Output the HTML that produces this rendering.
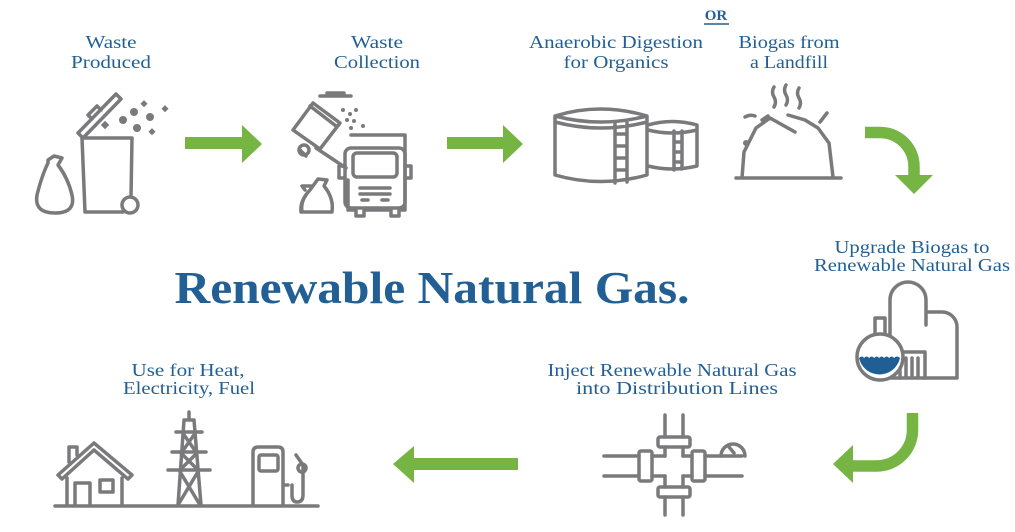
<!DOCTYPE html>
<html><head><style>
html,body{margin:0;padding:0;background:#fff;}
svg{display:block}
.t{font-family:"Liberation Serif",serif;fill:#215f94;font-size:18px;text-anchor:middle}
.g{fill:none;stroke:#7a7a7c;stroke-width:3.5;stroke-linejoin:round;stroke-linecap:round}
.gf{fill:#7a7a7c}
.gr{fill:#76b443}
</style></head><body>
<svg width="1015" height="532" viewBox="0 0 1015 532" xmlns="http://www.w3.org/2000/svg">
<!-- labels -->
<text class="t" x="111" y="48" textLength="51" lengthAdjust="spacingAndGlyphs">Waste</text>
<text class="t" x="111" y="68" textLength="80" lengthAdjust="spacingAndGlyphs">Produced</text>
<text class="t" x="377" y="48" textLength="52" lengthAdjust="spacingAndGlyphs">Waste</text>
<text class="t" x="377" y="68" textLength="86" lengthAdjust="spacingAndGlyphs">Collection</text>
<text class="t" x="616" y="48" textLength="174" lengthAdjust="spacingAndGlyphs">Anaerobic Digestion</text>
<text class="t" x="616" y="68" textLength="105" lengthAdjust="spacingAndGlyphs">for Organics</text>
<text class="t" x="789" y="48" textLength="101" lengthAdjust="spacingAndGlyphs">Biogas from</text>
<text class="t" x="789" y="68" textLength="78" lengthAdjust="spacingAndGlyphs">a Landfill</text>
<text class="t" x="716" y="20" style="font-weight:bold;font-size:15px">OR</text>
<line x1="704" y1="24" x2="729" y2="24" stroke="#215f94" stroke-width="1.5"/>
<text class="t" x="912" y="253" textLength="155" lengthAdjust="spacingAndGlyphs">Upgrade Biogas to</text>
<text class="t" x="912" y="271" textLength="196" lengthAdjust="spacingAndGlyphs">Renewable Natural Gas</text>
<text class="t" x="672" y="376" textLength="249" lengthAdjust="spacingAndGlyphs">Inject Renewable Natural Gas</text>
<text class="t" x="677" y="394" textLength="202" lengthAdjust="spacingAndGlyphs">into Distribution Lines</text>
<text class="t" x="188" y="376" textLength="113" lengthAdjust="spacingAndGlyphs">Use for Heat,</text>
<text class="t" x="189" y="394" textLength="132" lengthAdjust="spacingAndGlyphs">Electricity, Fuel</text>
<text x="432" y="303" textLength="515" lengthAdjust="spacingAndGlyphs" style="font-family:'Liberation Serif',serif;font-weight:bold;font-size:46px;fill:#215f94;text-anchor:middle">Renewable Natural Gas.</text>

<!-- green arrows -->
<rect class="gr" x="185" y="137" width="58" height="12"/><polygon class="gr" points="242,125 262,144 242,163"/>
<rect class="gr" x="447" y="137" width="57" height="12"/><polygon class="gr" points="503,125 523,144 503,163"/>
<path d="M865 132.5 H880 A34 34 0 0 1 914 166.5 V176" fill="none" stroke="#76b443" stroke-width="11.5"/>
<polygon class="gr" points="895,175 933,175 914,194"/>
<path d="M912.5 413 V430 A36 36 0 0 1 876.5 466 H852" fill="none" stroke="#76b443" stroke-width="11.5"/>
<polygon class="gr" points="853,445 853,483 833,464"/>
<rect class="gr" x="412" y="458" width="106" height="12"/><polygon class="gr" points="414,446 414,483 393,464"/>

<!-- waste produced -->
<path class="g" d="M82 138 H132 L131 197 M123 212 H85 L82 138"/>
<circle class="g" cx="130" cy="205" r="8"/>
<path class="g" d="M78 133 L116 94 L121 99 L83 138 Z M92 119 L88 115 L97 106 L101 110"/>
<circle class="gf" cx="123" cy="120" r="4"/><circle class="gf" cx="134" cy="112" r="4"/><circle class="gf" cx="150" cy="117" r="4"/><circle class="gf" cx="137" cy="128" r="4"/>
<rect class="gf" x="102" y="122" width="6" height="6" transform="rotate(45 105 125)"/>
<rect class="gf" x="142" y="101" width="5" height="5" transform="rotate(45 144 103)"/>
<rect class="gf" x="163" y="106" width="5" height="5" transform="rotate(45 165 108)"/>
<rect class="gf" x="150" y="129" width="5" height="5" transform="rotate(45 152 131)"/>
<path class="g" d="M48 163 Q42 175 37 195 Q34 213 55 213 Q76 213 72 195 Q68 178 58 165 L62 158 L54 156 L48 160 Z"/>

<!-- collection -->
<path class="g" d="M351 135 H405 V158 M348 180 V210 H356 V216 H364 V210 H391 V216 H399 V210 H405 V158"/>
<rect class="g" x="345" y="148" width="60" height="60" rx="6"/>
<rect class="g" x="353" y="153" width="44" height="24" rx="4"/>
<path class="g" d="M339 166 H345 M405 166 H411 V178 H405 M339 166 V178 H345 M360 188 H390 M360 194 H390 M362 200 H368 M382 200 H388"/>
<path class="g" d="M293 130 L313 103 L340 123 L320 149 Z M310 106 L336 126"/>
<path class="g" d="M300 150 l6 6 M316 148 L346 168" />
<circle class="g" cx="304" cy="150" r="5"/>
<path class="g" d="M320 96 H351 M327 96 V93 H344 V96"/>
<circle class="gf" cx="343" cy="110" r="2"/><circle class="gf" cx="350" cy="114" r="2"/><circle class="gf" cx="347" cy="120" r="2"/><circle class="gf" cx="354" cy="121" r="2"/><circle class="gf" cx="356" cy="110" r="2"/><circle class="gf" cx="351" cy="128" r="2"/><circle class="gf" cx="363" cy="126" r="2"/>
<path class="g" d="M310 190 Q300 200 302 212 H332 Q334 198 324 186 L327 180 L318 179 Z"/>
<path class="g" d="M306 195 Q300 203 301 212 M305 190 L302 186 L311 186"/>

<!-- tanks -->
<path class="g" d="M555 116 Q600 102 647 116 V175 Q600 188 555 175 Z M555 116 Q600 128 647 116 M555 122 Q600 134 647 122 M615 124 V183 M627 123 V182 M615 134 H627 M615 146 H627 M615 158 H627 M615 170 H627"/>
<path class="g" d="M648 125 Q672 118 697 125 V166 Q672 172 648 166 M648 130 Q672 136 697 130 M674 131 V170 M682 131 V169 M674 142 H682 M674 152 H682 M674 162 H682"/>
<!-- landfill -->
<path class="g" d="M736 178 H841 M742 178 L744 152 L756 128 L770 118 L795 132 M788 115 L805 120 L818 128 L829 143 L833 177 M762 120 L768 116 M745 117 Q750 114 755 116 M820 122 L827 113"/>
<circle class="gf" cx="746" cy="143" r="3"/>
<path class="g" d="M774 87 q-3 5 0 10 q3 5 0 10 M786 85 q-3 5 0 10 q3 5 0 10 M799 88 q-3 5 0 10 q3 5 0 10"/>

<!-- plant -->
<path class="g" d="M890 378 V300 A18 18 0 0 1 926 300 V325 M926 322 V312 H942 A15 15 0 0 1 957 327 V378 H890"/>
<path class="g" d="M900 378 V352 H925 V378 M906 358 V376 M912 358 V376 M918 358 V376"/>
<circle cx="880" cy="357" r="23" fill="#fff" stroke="#7a7a7c" stroke-width="3.5"/>
<path d="M859 358 q3 -3 5 0 q3 -3 5 0 q3 -3 5 0 q3 -3 5 0 q3 -3 5 0 q3 -3 5 0 q3 -3 5 0 q3 -3 6 0 A21 21 0 0 1 859 358 Z" fill="#1f5f94"/>
<path class="g" d="M875 334 V318 H885 V334"/>

<!-- pipes -->
<path class="g" d="M665 415 V437 M683 415 V437 M665 447 V456 M683 447 V456 M665 476 V487 M683 476 V487 M665 497 V515 M683 497 V515"/>
<rect class="g" x="658" y="437" width="32" height="10" rx="2"/>
<rect class="g" x="658" y="487" width="32" height="10" rx="2"/>
<path class="g" d="M604 456 H639 M604 476 H639 M652 456 H665 M652 476 H665 M683 456 H692 M683 476 H692 M705 456 H742 M705 476 H742"/>
<rect class="g" x="639" y="451" width="13" height="30" rx="2"/><rect class="g" x="692" y="451" width="13" height="30" rx="2"/>
<path class="g" d="M721 456 A12 12 0 0 1 745 456 M729 447 L734 453"/>

<!-- bottom left -->
<path class="g" d="M55 506 H318"/>
<path class="g" d="M58 475 L94 443 L132 475 L128 479 L94 450 L62 479 Z M69 462 V447 H77 V455 M67 478 V505 M122 478 V505 M75 505 V483 H90 V505"/>
<rect class="g" x="100" y="480" width="13" height="12"/>
<path class="g" d="M189 412 V420 M184 420 L178 505 M194 420 L201 505 M176 432 H202 M172 452 H206 M168 470 H210 M182 432 L196 452 M196 432 L182 452 M180 452 L198 470 M198 452 L180 470 M179 470 L200 505 M199 470 L178 505 M184 420 H194"/>
<path class="g" d="M253 505 V452 Q253 447 258 447 H278 Q283 447 283 452 V505 M283 485 H288"/>
<rect class="g" x="259" y="455" width="19" height="16" rx="2"/>
<path class="g" d="M296 455 L303 465 V495 Q303 502 297 502 Q292 502 292 495 V485"/>
<circle class="g" cx="302" cy="468" r="4"/>
</svg>
</body></html>
